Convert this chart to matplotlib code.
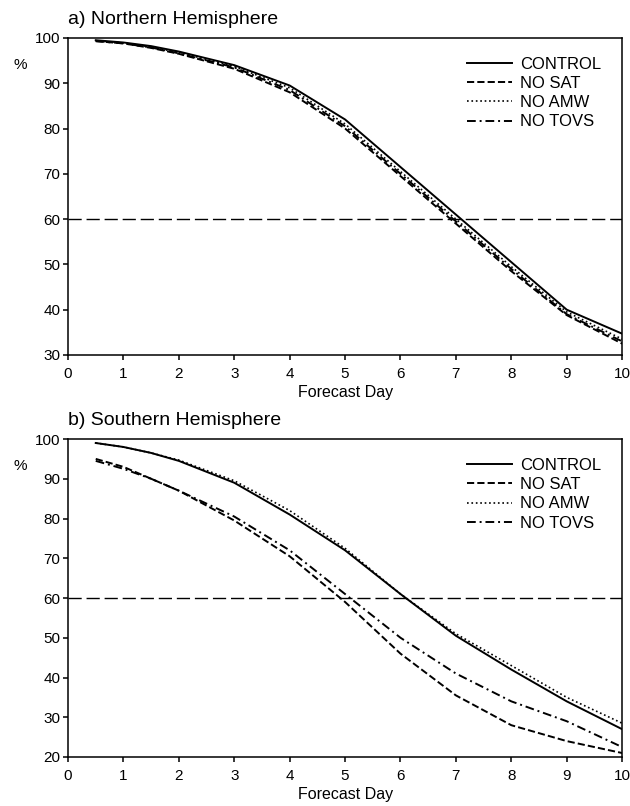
import matplotlib
matplotlib.use('Agg')
import matplotlib.pyplot as plt

plt.rcParams['font.family'] = ['Liberation Sans', 'DejaVu Sans']

days = [0.5, 1, 1.5, 2, 3, 4, 5, 6, 7, 8, 9, 10]
names = ['CONTROL', 'NO SAT', 'NO AMW', 'NO TOVS']

# Northern Hemisphere
nh_control = [99.5, 99.0, 98.2, 97.0, 94.0, 89.5, 82.0, 71.5, 61.0, 50.5, 40.0, 34.7]
nh_nosat = [99.3, 98.8, 97.8, 96.5, 93.2, 88.0, 80.0, 69.5, 59.0, 48.5, 38.8, 32.5]
nh_noamw = [99.4, 98.9, 98.0, 96.8, 93.7, 89.0, 81.0, 70.5, 60.0, 49.5, 39.5, 33.5]
nh_notovs = [99.3, 98.8, 97.9, 96.6, 93.5, 88.5, 80.5, 70.0, 59.5, 49.0, 39.0, 33.0]

# Southern Hemisphere
sh_control = [99.0, 98.0, 96.5, 94.5, 89.0, 81.0, 72.0, 61.0, 50.5, 42.0, 34.0, 27.0]
sh_nosat = [95.0, 93.0, 90.0, 87.0, 79.5, 70.5, 59.0, 46.0, 35.5, 28.0, 24.0, 21.0]
sh_noamw = [99.0, 98.0, 96.5, 94.7, 89.5, 82.0, 72.5, 61.0, 51.0, 43.0, 35.0, 28.5]
sh_notovs = [94.5, 92.5, 90.0, 87.0, 80.5, 72.0, 61.0, 50.0, 41.0, 34.0, 29.0, 22.5]

styles = ['-', '--', ':', (0, (4.5, 2, 1, 2))]


def panel(ax, series, title, ymin, yticks):
    for vals, ls, name in zip(series, styles, names):
        lw = 1.2 if ls == ':' else 1.4
        ax.plot(days, vals, color='k', linestyle=ls, linewidth=lw, label=name)
    ax.axhline(60, color='k', linestyle=(0, (9.5, 3.5)), linewidth=1.0)
    ax.set_xlim(0, 10)
    ax.set_ylim(ymin, 100)
    ax.set_xticks(range(0, 11))
    ax.set_yticks(yticks)
    for s in ax.spines.values():
        s.set_linewidth(1.1)
    ax.tick_params(direction='out', length=3.5, width=1.1, labelsize=11, pad=2)
    ax.tick_params(axis='x', pad=5)
    ax.set_xlabel('Forecast Day', fontsize=11.5, labelpad=3)
    ax.text(-0.099, 0.915, '%', transform=ax.transAxes, fontsize=11, va='center')
    ax.annotate(title, xy=(0, 1), xycoords='axes fraction', xytext=(0, 13),
                textcoords='offset points', fontsize=14, ha='left', va='center')
    ax.legend(loc='upper left', frameon=False, fontsize=12, handlelength=2.7,
              handletextpad=0.5, labelspacing=0.25, borderpad=0, borderaxespad=0,
              bbox_to_anchor=(0.72, 0.94))


fig = plt.figure(figsize=(6.3, 8.06), dpi=100)
ax1 = fig.add_axes([0.108, 0.5596, 0.8795, 0.3933])
ax2 = fig.add_axes([0.108, 0.0608, 0.8795, 0.3945])

panel(ax1, [nh_control, nh_nosat, nh_noamw, nh_notovs], 'a) Northern Hemisphere', 30, range(30, 101, 10))
panel(ax2, [sh_control, sh_nosat, sh_noamw, sh_notovs], 'b) Southern Hemisphere', 20, range(20, 101, 10))

fig.savefig('out.png', dpi=100)
